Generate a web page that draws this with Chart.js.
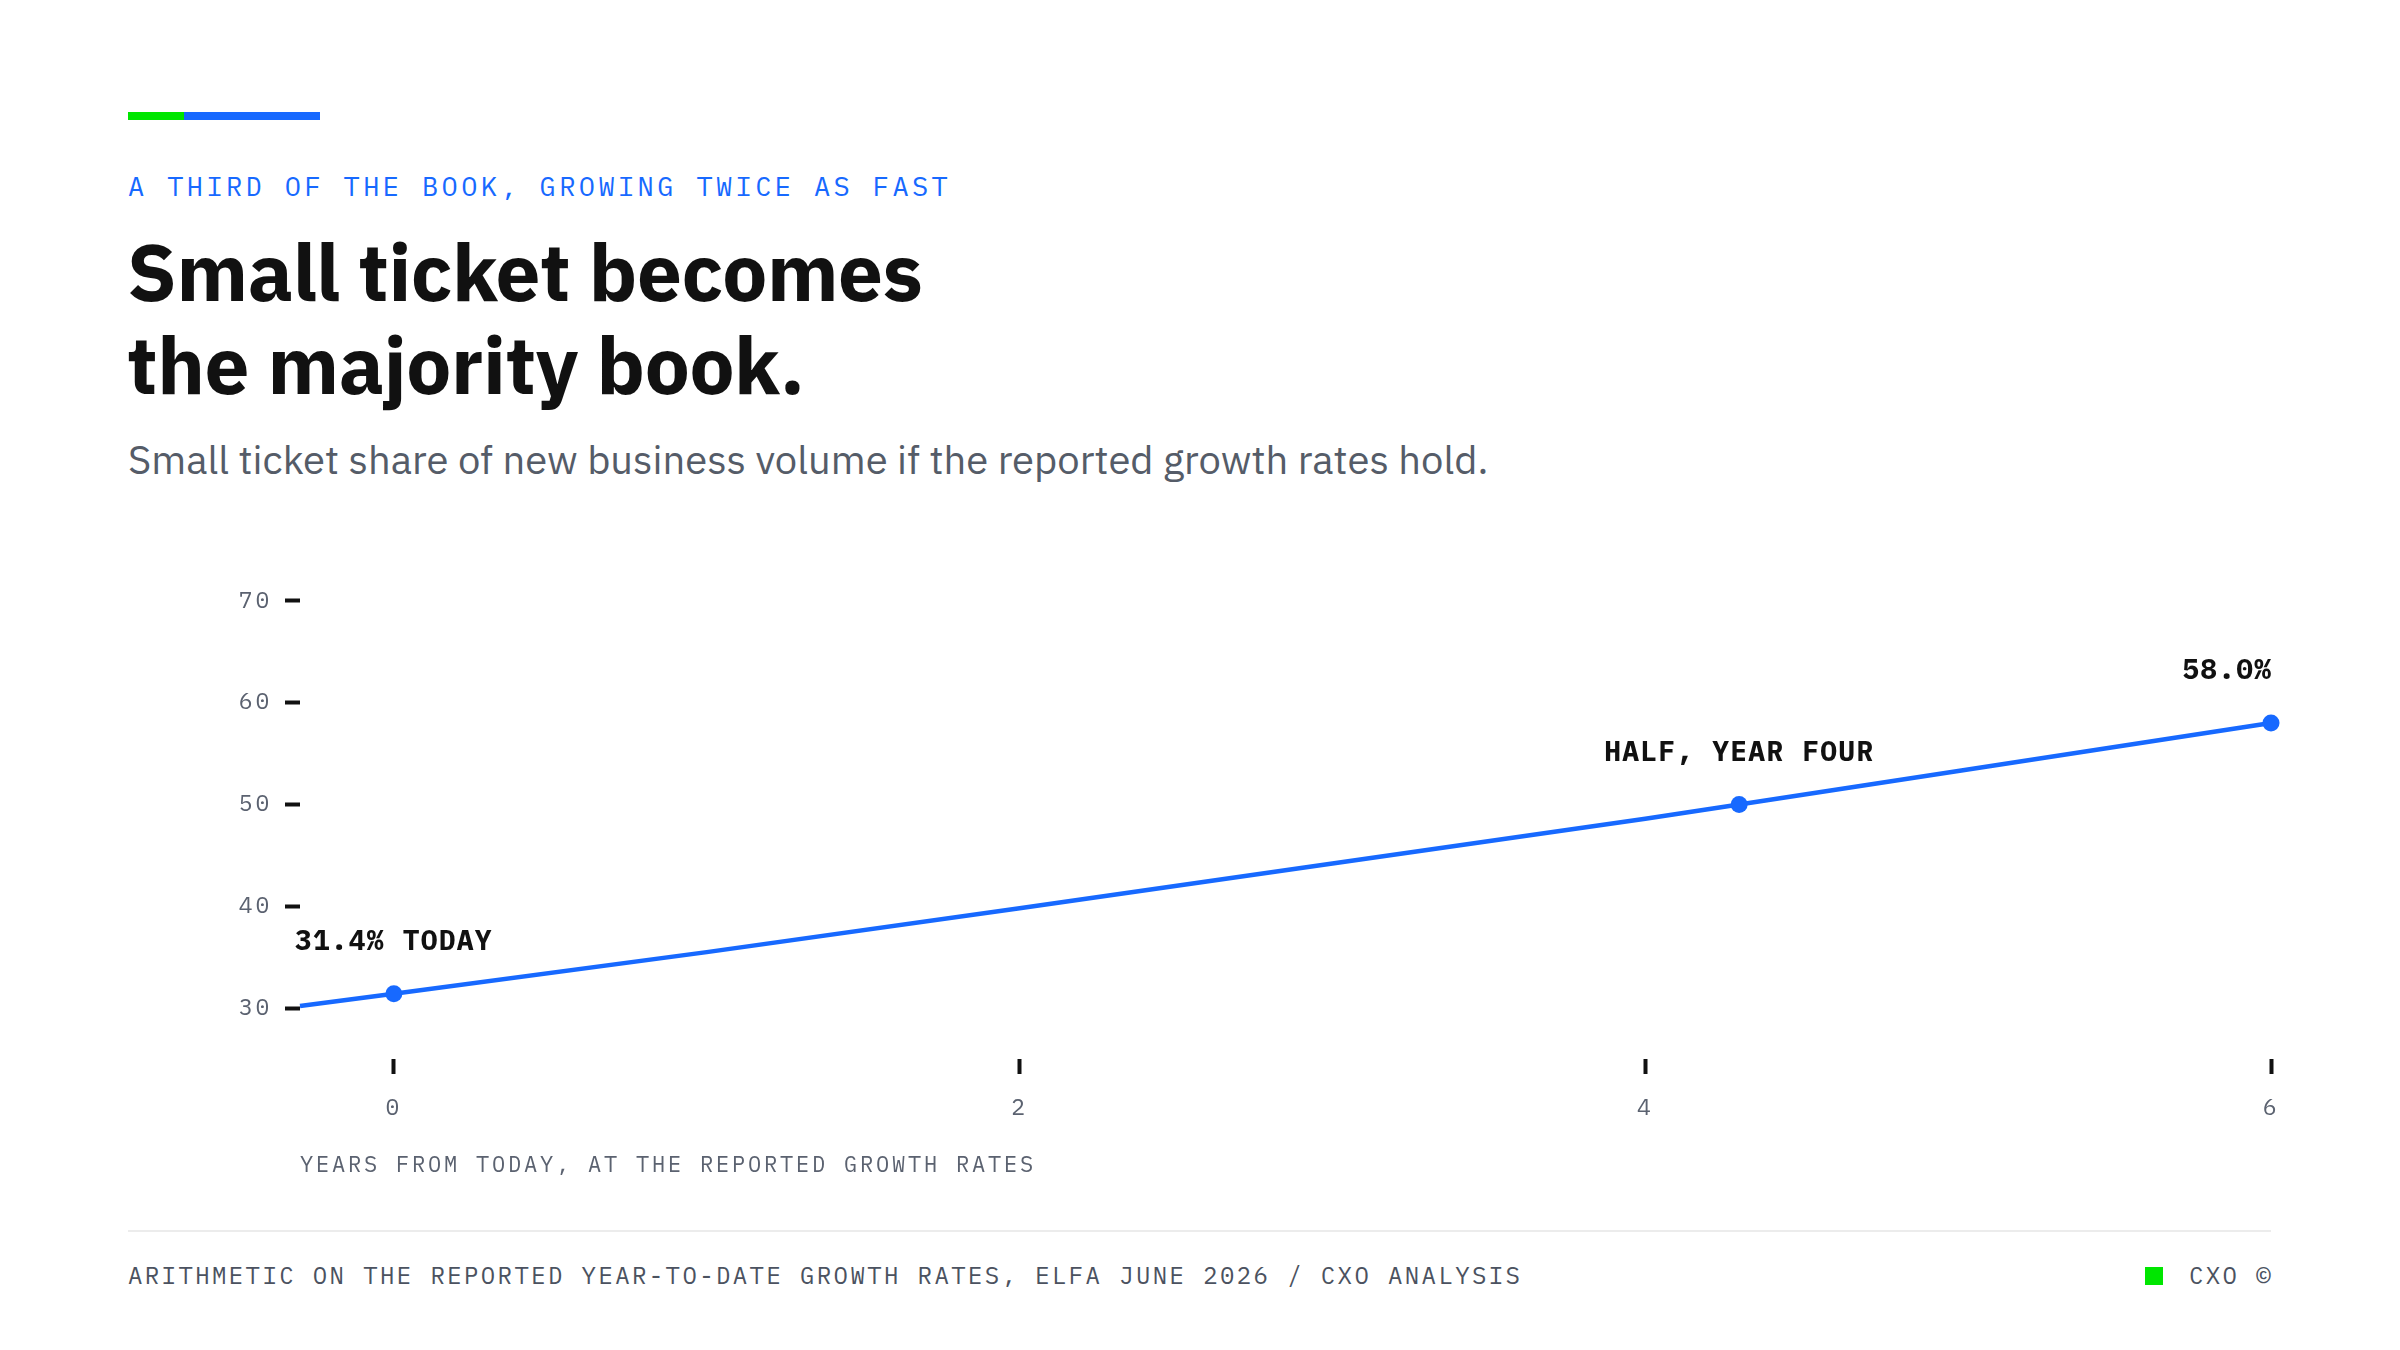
<!DOCTYPE html>
<html>
<head>
<meta charset="utf-8">
<script src="https://cdn.jsdelivr.net/npm/chart.js@4.4.1/dist/chart.umd.min.js"></script>
<style>
  body { margin: 0; width: 2400px; height: 1350px; background: #fff; position: relative; overflow: hidden; font-family: "IBM Plex Sans", Roboto, "Noto Sans", sans-serif; }
  .mono { font-family: "IBM Plex Mono", "DejaVu Sans Mono", monospace; }
  #bar-green { position: absolute; left: 128px; top: 112px; width: 56px; height: 8px; background: #00e600; }
  #bar-blue { position: absolute; left: 184px; top: 112px; width: 136px; height: 8px; background: #1769ff; }
  #eyebrow { position: absolute; left: 128px; top: 170px; font-size: 27px; letter-spacing: 3.4px; color: #1769ff; line-height: 32px; white-space: nowrap; }
  #title { position: absolute; left: 127px; top: 225px; font-size: 80px; font-weight: 700; color: #111; line-height: 93px; letter-spacing: -0.4px; margin: 0; }
  #desc { position: absolute; left: 128px; top: 433px; font-size: 40px; color: #555c68; line-height: 52px; white-space: nowrap; }
  #wrap { position: absolute; left: 0; top: 520px; width: 2400px; height: 680px; }
  #rule { position: absolute; left: 128px; top: 1230px; width: 2143px; height: 2px; background: #ececec; }
  #source { position: absolute; left: 128px; top: 1260px; font-size: 24px; letter-spacing: 2.4px; color: #4b5260; line-height: 30px; white-space: nowrap; }
  #brand { position: absolute; right: 127px; top: 1260px; font-size: 24px; letter-spacing: 2.4px; color: #4b5260; line-height: 30px; white-space: nowrap; }
  #brand i { display: inline-block; width: 18px; height: 18px; background: #00e600; margin-right: 26px; vertical-align: -1px; }
</style>
</head>
<body>
<div id="bar-green"></div><div id="bar-blue"></div>
<div id="eyebrow" class="mono">A THIRD OF THE BOOK, GROWING TWICE AS FAST</div>
<h1 id="title">Small ticket becomes<br>the majority book.</h1>
<div id="desc">Small ticket share of new business volume if the reported growth rates hold.</div>
<div id="wrap"><canvas id="shareChart"></canvas></div>
<div id="rule"></div>
<div id="source" class="mono">ARITHMETIC ON THE REPORTED YEAR-TO-DATE GROWTH RATES, ELFA JUNE 2026 / CXO ANALYSIS</div>
<div id="brand" class="mono"><i></i>CXO ©</div>

<script>
// years from today and the small ticket share (%)
const years = [-0.3, 0, 1, 2, 3, 4, 4.3, 5, 6];
const share = [30.2, 31.4, 35.5, 39.8, 44.2, 48.6, 50.0, 53.3, 58.0];

// highlighted points and their labels
const markedYears = [0, 4.3, 6];
const markedLabels = ['31.4% TODAY', 'HALF, YEAR FOUR', '58.0%'];

const xTicks = [0, 2, 4, 6];
const yTicks = [30, 40, 50, 60, 70];

const BLUE = '#1769ff';
const MONO = '"IBM Plex Mono", "DejaVu Sans Mono", monospace';

function buildPoints() {
  return years.map(function(y, i) {
    return { x: y, y: share[i] };
  });
}

function isMarked(i) {
  return markedYears.indexOf(years[i]) !== -1;
}

// spaced mono text on the axes
const spacing = {
  id: 'spacing',
  beforeDraw: function(chart) { chart.ctx.letterSpacing = '2.8px'; },
  beforeDatasetsDraw: function(chart) { chart.ctx.letterSpacing = '0px'; }
};

// labels above the marked points
const pointLabels = {
  id: 'pointLabels',
  afterDatasetsDraw: function(chart) {
    let ctx = chart.ctx;
    let meta = chart.getDatasetMeta(0);
    ctx.save();
    ctx.letterSpacing = '1.2px';
    ctx.font = 'bold 28px ' + MONO;
    ctx.fillStyle = '#111';
    ctx.textBaseline = 'middle';
    markedYears.forEach(function(yr, k) {
      let el = meta.data[years.indexOf(yr)];
      ctx.textAlign = k === markedYears.length - 1 ? 'right' : 'center';
      let x = ctx.textAlign === 'right' ? el.x + 1.2 : el.x;
      ctx.fillText(markedLabels[k], x, el.y - 52);
    });
    ctx.restore();
  }
};

let ctx = document.getElementById('shareChart').getContext('2d');
let chart = new Chart(ctx, {
  type: 'line',
  data: {
    datasets: [{
      label: 'Small ticket share',
      data: buildPoints(),
      borderColor: BLUE,
      backgroundColor: BLUE,
      borderWidth: 4.5,
      tension: 0,
      clip: false,
      pointRadius: function(c) { return isMarked(c.dataIndex) ? 8.5 : 0; },
      pointBorderWidth: 0,
      pointBackgroundColor: BLUE
    }]
  },
  options: {
    responsive: true,
    maintainAspectRatio: false,
    animation: false,
    layout: { padding: { left: 128, right: 129, top: 30, bottom: 0 } },
    plugins: { legend: { display: false }, tooltip: { enabled: false } },
    scales: {
      x: {
        type: 'linear',
        min: -0.3,
        max: 6,
        afterBuildTicks: function(axis) { axis.ticks = xTicks.map(function(v) { return { value: v }; }); },
        afterFit: function(axis) { axis.height = 141; },
        border: { display: false },
        grid: { display: true, drawOnChartArea: false, drawTicks: true, tickLength: 15, tickWidth: 4, tickColor: '#111' },
        ticks: { padding: 21, color: '#5b6270', font: { family: MONO, size: 23 }, maxRotation: 0 },
        title: {
          display: true,
          text: 'YEARS FROM TODAY, AT THE REPORTED GROWTH RATES',
          align: 'start',
          color: '#5b6270',
          font: { family: MONO, size: 22 },
          padding: { top: 0, bottom: 21 }
        }
      },
      y: {
        min: 25,
        max: 75,
        afterBuildTicks: function(axis) { axis.ticks = yTicks.map(function(v) { return { value: v }; }); },
        afterFit: function(axis) { axis.width = 172; },
        border: { display: false },
        grid: { display: true, drawOnChartArea: false, drawTicks: true, tickLength: 15, tickWidth: 4, tickColor: '#111' },
        ticks: { padding: 13, color: '#5b6270', font: { family: MONO, size: 23 } }
      }
    }
  },
  plugins: [spacing, pointLabels]
});
</script>
</body>
</html>
